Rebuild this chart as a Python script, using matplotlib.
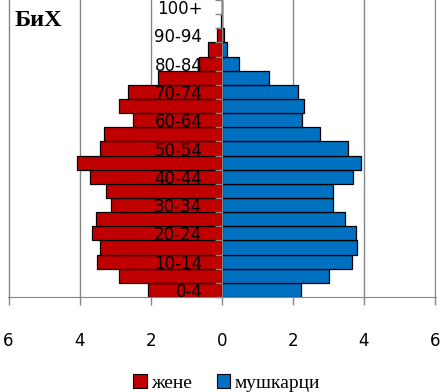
import numpy as np
import matplotlib
matplotlib.use("Agg")
import matplotlib.pyplot as plt
from matplotlib.patches import Patch

# age groups, bottom to top
ages = ["0-4", "5-9", "10-14", "15-19", "20-24", "25-29", "30-34", "35-39",
        "40-44", "45-49", "50-54", "55-59", "60-64", "65-69", "70-74",
        "75-79", "80-84", "85-89", "90-94", "95-99", "100+"]
# percent of population
women = [2.08, 2.89, 3.51, 3.44, 3.65, 3.54, 3.12, 3.25, 3.70, 4.07, 3.43,
         3.31, 2.50, 2.89, 2.64, 1.80, 0.63, 0.40, 0.13, 0.02, 0.005]
men = [2.23, 3.03, 3.66, 3.80, 3.77, 3.46, 3.14, 3.14, 3.68, 3.91, 3.54,
       2.76, 2.26, 2.31, 2.14, 1.33, 0.49, 0.16, 0.05, 0.01, 0.003]
xticks = [-6, -4, -2, 0, 2, 4, 6]

red = "#C00000"
blue = "#0070C0"
grey = "#868686"

fig = plt.figure(figsize=(4.44, 3.92), dpi=100)
ax = fig.add_axes([7.5/444, 1 - 297/392, 428.5/444, 297/392])
ax.set_axisbelow(False)  # age labels sit on top of the bars

y = np.arange(len(ages))
ax.barh(y, -np.array(women), height=1.0, color=red, edgecolor="black", linewidth=0.9, zorder=1)
ax.barh(y, men, height=1.0, color=blue, edgecolor="black", linewidth=0.9, zorder=1)

ax.set_xlim(-6.03, 6.03)
ax.set_ylim(-0.5, len(ages) - 0.5)

# vertical grid lines behind the bars
for v in xticks:
    ax.axvline(v, color=grey, linewidth=1, zorder=0)

ax.set_xticks(xticks)
ax.set_xticklabels([str(abs(v)) for v in xticks], fontsize=12, color="black")
ax.tick_params(axis="x", length=6, width=1, color=grey, pad=19)

# category axis at zero
for s in ["top", "right"]:
    ax.spines[s].set_visible(False)
ax.spines["left"].set_position(("data", 0))
ax.spines["left"].set_color(grey)
ax.spines["bottom"].set_color(grey)
ax.set_yticks(y[::2])
ax.set_yticklabels(ages[::2], fontsize=12, color="black")
ax.set_yticks(np.arange(-0.5, len(ages), 1), minor=True)
ax.tick_params(axis="y", which="major", length=0, pad=14)
ax.tick_params(axis="y", which="minor", length=5, width=1, color=grey)

fig.text(15/444, 1 - 20/392, "БиХ", fontsize=17.5, fontweight="bold",
         family="Liberation Serif", va="center", ha="left")

handles = [Patch(facecolor=red, edgecolor="black", linewidth=0.8, label="жене"),
           Patch(facecolor=blue, edgecolor="black", linewidth=0.8, label="мушкарци")]
fig.legend(handles=handles, loc="center", bbox_to_anchor=(0.51, 1 - 383/392),
           ncol=2, frameon=False, handlelength=0.7, handleheight=0.7,
           handletextpad=0.2, columnspacing=1.3,
           prop={"family": "Liberation Serif", "size": 14})

fig.savefig("out.png", dpi=100)
